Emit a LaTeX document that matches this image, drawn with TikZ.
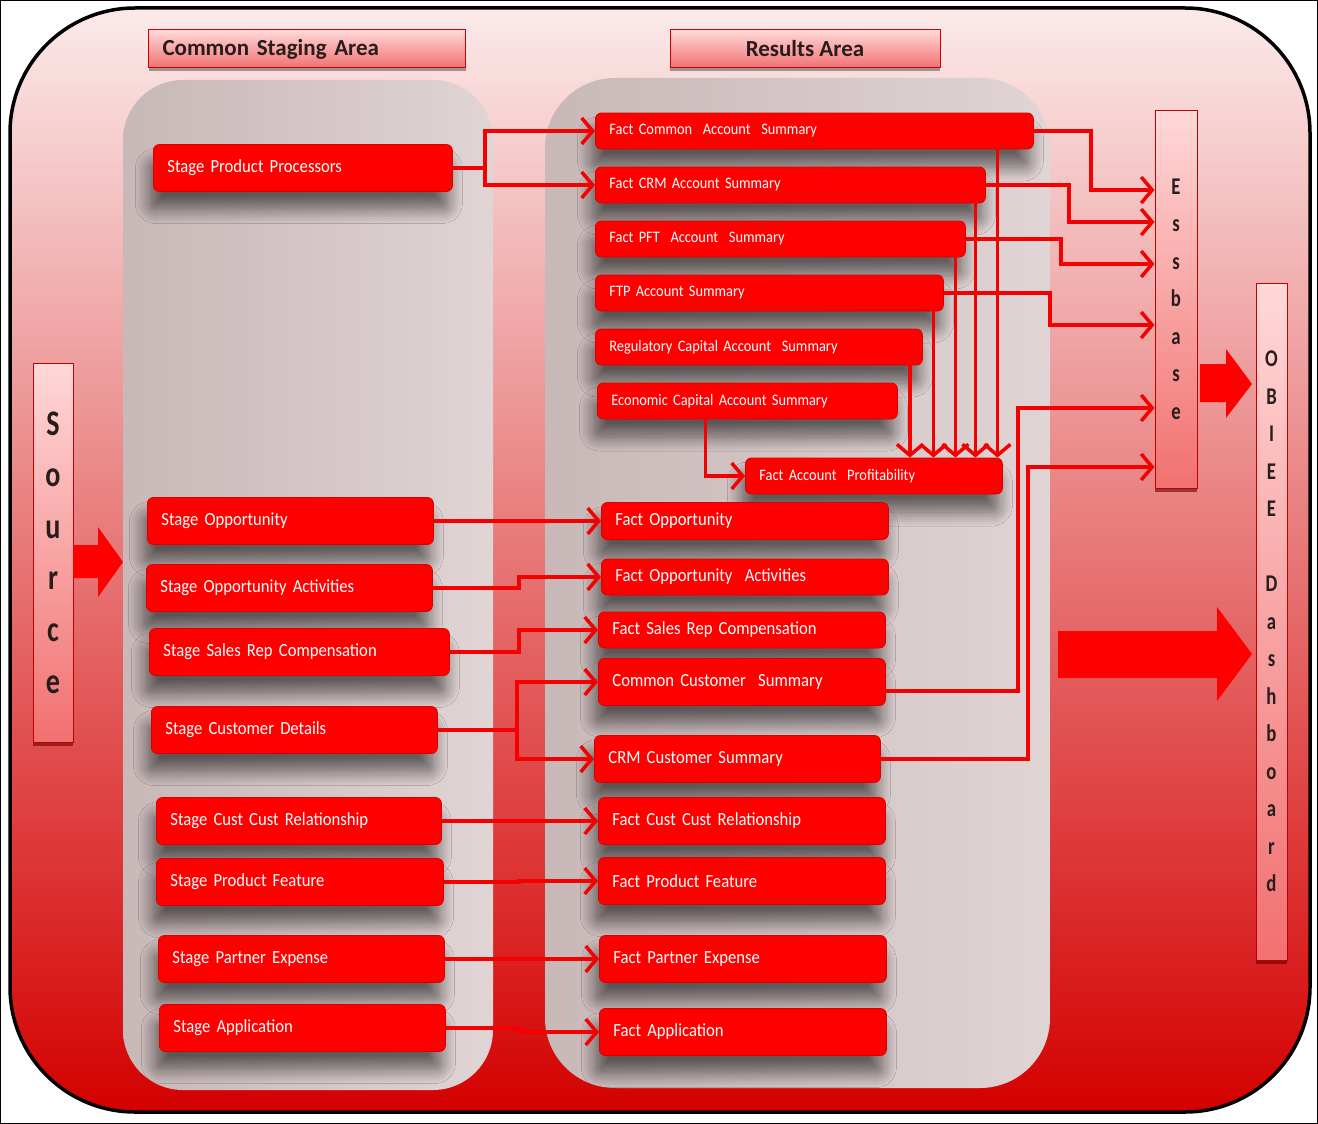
\documentclass[tikz,border=0pt]{standalone}
\usepackage{fontspec}
\setmainfont{Carlito}
\newfontfamily\boxfont{Carlito}[FakeStretch=0.9]
\newfontfamily\letterfont{Carlito}[FakeStretch=0.78]
\usetikzlibrary{arrows.meta,shadows,shadows.blur}

\definecolor{boxred}{RGB}{255,0,0}
\definecolor{linkred}{RGB}{245,0,0}
\definecolor{bgtop}{RGB}{251,234,234}
\definecolor{bgmid}{RGB}{226,112,112}
\definecolor{bgbot}{RGB}{212,0,0}
\definecolor{pinklight}{RGB}{255,216,216}
\definecolor{pinkdark}{RGB}{242,112,112}
\definecolor{letterdark}{RGB}{40,28,28}
\definecolor{panelleft}{RGB}{200,184,184}
\definecolor{panelright}{RGB}{224,212,212}

\tikzset{
	stagebox/.style={draw=red!85!black, line width=0.8pt, fill=boxred, rounded corners=6pt,
		text=white, anchor=west, align=left, inner xsep=14pt, minimum height=47pt, text width=#1,
		font=\boxfont\fontsize{18.5}{20}\selectfont,
		blur shadow={shadow xshift=-4pt, shadow yshift=-18pt, shadow blur steps=12, shadow blur radius=14pt, shadow opacity=55}},
	sumbox/.style={stagebox=#1, minimum height=36pt, font=\boxfont\fontsize{16}{18}\selectfont},
	hdrbox/.style={draw=red!80!black, line width=1pt, top color=pinklight, bottom color=pinkdark,
		text=letterdark, minimum height=38pt, inner xsep=14pt, font=\bfseries\fontsize{23}{25}\selectfont,
		drop shadow={shadow xshift=0pt, shadow yshift=-3pt, fill=black, opacity=0.35}},
	vbox/.style={draw=red!75!black, line width=1pt, top color=pinklight, bottom color=pinkdark,
		text=letterdark, align=center, inner sep=2pt,
		drop shadow={shadow xshift=0pt, shadow yshift=-4pt, fill=red!40!black, opacity=0.6}},
	link/.style={draw=linkred, line width=3.5pt, -{Straight Barb[length=11pt, width=26pt]}},
	bigarrow/.style={fill=boxred}
}

\begin{document}
\begin{tikzpicture}[x=1pt, y=-1pt]
	\useasboundingbox (0,0) rectangle (1318,1124);
	\draw[line width=1.5pt] (0,0) rectangle (1318,1124);

	\shade[top color=bgtop, middle color=bgmid, bottom color=bgbot, rounded corners=125pt] (10,8) rectangle (1310,1112);
	\draw[line width=3.5pt, rounded corners=125pt] (10,8) rectangle (1310,1112);

	\shade[left color=panelleft, right color=panelright, rounded corners=60pt] (123,80) rectangle (493,1090);
	\shade[left color=panelleft, right color=panelright, rounded corners=70pt] (545,78) rectangle (1050,1088);

	\node[hdrbox, anchor=west, text width=289pt, align=left] (csa) at (148,49) {Common Staging Area};
	\node[hdrbox, minimum width=270pt] (ra) at (805,49) {Results Area};

	\node[vbox, minimum width=40pt, minimum height=379pt, font=\letterfont\bfseries\fontsize{36}{51.6}\selectfont] (src) at (53,552.5) {S\\o\\u\\r\\c\\e};
	\node[vbox, minimum width=42pt, minimum height=378pt, font=\letterfont\bfseries\fontsize{24}{37.5}\selectfont] (esb) at (1176,299) {E\\s\\s\\b\\a\\s\\e};
	\node[vbox, minimum width=31pt, minimum height=677pt, font=\letterfont\bfseries\fontsize{24}{37.5}\selectfont] (obiee) at (1271.5,621.5) {O\\B\\I\\E\\E\\[37.5pt]D\\a\\s\\h\\b\\o\\a\\r\\d};

	\fill[bigarrow] (73,545) -- (98,545) -- (98,527) -- (123,562) -- (98,597) -- (98,578) -- (73,578) -- cycle;
	\fill[bigarrow] (1200,364) -- (1226,364) -- (1226,349) -- (1252,384) -- (1226,418) -- (1226,402) -- (1200,402) -- cycle;
	\fill[bigarrow] (1058,631) -- (1217,631) -- (1217,607) -- (1252,654) -- (1217,701) -- (1217,678) -- (1058,678) -- cycle;

	\node[stagebox=271pt] (spp) at (153,168) {Stage Product Processors};
	\node[stagebox=258pt] (sopp) at (147,521) {Stage Opportunity};
	\node[stagebox=258pt] (sopa) at (146,588) {Stage Opportunity Activities};
	\node[stagebox=272pt] (ssrc) at (149,652) {Stage Sales Rep Compensation};
	\node[stagebox=258pt] (scd) at (151,730) {Stage Customer Details};
	\node[stagebox=257pt] (sccr) at (156,821) {Stage Cust Cust Relationship};
	\node[stagebox=259pt] (spf) at (156,882) {Stage Product Feature};
	\node[stagebox=258pt] (spe) at (158,959) {Stage Partner Expense};
	\node[stagebox=258pt] (sapp) at (159,1028) {Stage Application};

	\node[sumbox=410pt] (fcas) at (595,131) {Fact Common\ \ Account\ \ Summary};
	\node[sumbox=362pt] (fcrm) at (595,185) {Fact CRM Account Summary};
	\node[sumbox=342pt] (fpft) at (595,239) {Fact PFT\ \ Account\ \ Summary};
	\node[sumbox=320pt] (ftp) at (595,293) {FTP Account Summary};
	\node[sumbox=299pt] (rcas) at (595,347) {Regulatory Capital Account\ \ Summary};
	\node[sumbox=272pt] (ecas) at (597,401) {Economic Capital Account Summary};
	\node[sumbox=229pt] (fap) at (745,476) {Fact Account\ \ Profitability};

	\node[stagebox=259pt, minimum height=37pt] (fopp) at (601,521) {Fact Opportunity};
	\node[stagebox=259pt, minimum height=36pt] (fopa) at (601,577) {Fact Opportunity\ \ Activities};
	\node[stagebox=259pt, minimum height=36pt] (fsrc) at (598,630) {Fact Sales Rep Compensation};
	\node[stagebox=259pt] (ccs) at (598,682) {Common Customer\ \ Summary};
	\node[stagebox=258pt] (crmcs) at (594,759) {CRM Customer Summary};
	\node[stagebox=259pt] (fccr) at (598,821) {Fact Cust Cust Relationship};
	\node[stagebox=259pt] (fpf) at (598,881) {Fact Product Feature};
	\node[stagebox=259pt] (fpe) at (599,959) {Fact Partner Expense};
	\node[stagebox=259pt] (fapp) at (599,1032) {Fact Application};

	\draw[link] (spp.east) -- ++(32,0) |- (fcas.west);
	\draw[link] (spp.east) -- ++(32,0) |- (fcrm.west);
	\draw[link] (sopp.east) -- ++(85,0) |- (fopp.west);
	\draw[link] (sopa.east) -- ++(86,0) |- (fopa.west);
	\draw[link] (ssrc.east) -- ++(69,0) |- (fsrc.west);
	\draw[link] (scd.east) -- ++(79,0) |- (ccs.west);
	\draw[link] (scd.east) -- ++(79,0) |- (crmcs.west);
	\draw[link] (sccr.east) -- ++(77,0) |- (fccr.west);
	\draw[link] (spf.east) -- ++(75,0) |- (fpf.west);
	\draw[link] (spe.east) -- ++(74,0) |- (fpe.west);
	\draw[link] (sapp.east) -- ++(73,0) |- (fapp.west);

	\draw[link] ([xshift=183pt]fcas.south) -- ([xshift=183pt]fcas.south |- fap.north);
	\draw[link] ([xshift=185pt]fcrm.south) -- ([xshift=185pt]fcrm.south |- fap.north);
	\draw[link] ([xshift=175pt]fpft.south) -- ([xshift=175pt]fpft.south |- fap.north);
	\draw[link] ([xshift=164pt]ftp.south) -- ([xshift=164pt]ftp.south |- fap.north);
	\draw[link] ([xshift=151pt]rcas.south) -- ([xshift=151pt]rcas.south |- fap.north);
	\draw[link] ([xshift=-42pt]ecas.south) |- (fap.west);

	\draw[link] (fcas.east) -- ++(57,0) |- ([yshift=109pt]esb.west);
	\draw[link] (fcrm.east) -- ++(83,0) |- ([yshift=77pt]esb.west);
	\draw[link] (fpft.east) -- ++(95,0) |- ([yshift=35pt]esb.west);
	\draw[link] (ftp.east) -- ++(106,0) |- ([yshift=-26pt]esb.west);
	\draw[link] ([yshift=-9pt]ccs.east) -- ++(132,0) |- ([yshift=-109pt]esb.west);
	\draw[link] (crmcs.east) -- ++(147,0) |- ([yshift=-168pt]esb.west);
\end{tikzpicture}
\end{document}
